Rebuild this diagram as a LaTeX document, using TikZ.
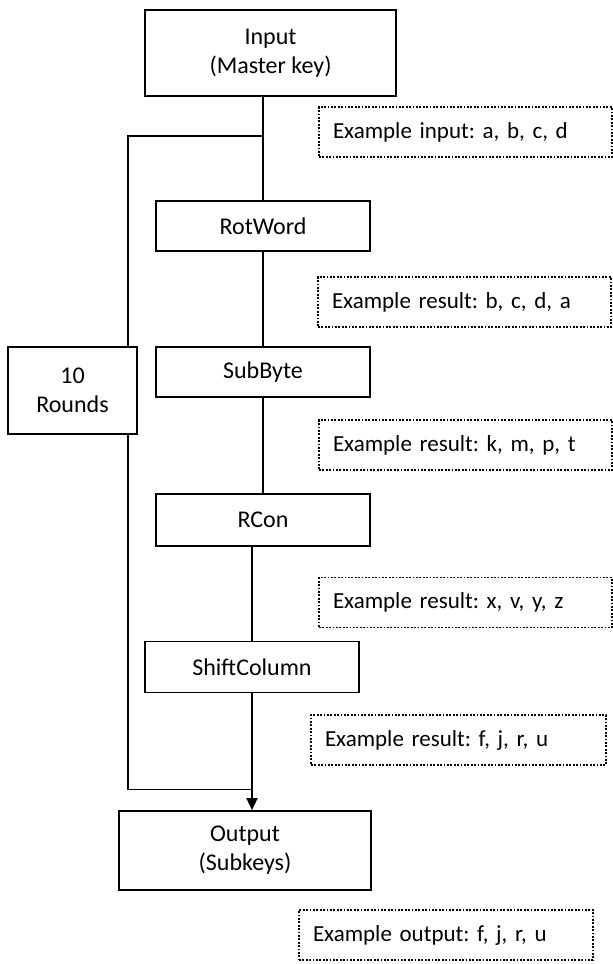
\documentclass[tikz,border=0pt]{standalone}
\usepackage{fontspec}
\setmainfont{Carlito}
\frenchspacing
\usetikzlibrary{positioning,arrows.meta,calc}
\tikzset{x=1pt, y=1pt, >={Triangle[length=12pt,width=11pt]},
  stepbox/.style={draw, line width=1.8pt, minimum width=214pt, minimum height=50pt,
    inner sep=0pt, align=center, font=\fontsize{24}{29}\selectfont},
  note/.style={draw, line width=1.8pt, dash pattern=on 1.8pt off 1.6pt,
    minimum height=50pt, text width=265pt, inner xsep=14pt, inner ysep=0pt,
    align=left, font=\fontsize{23}{28}\selectfont},
  link/.style={line width=1.8pt}}

\begin{document}
\begin{tikzpicture}
  \useasboundingbox (0,0) rectangle (613,-964);

  \node (in) [stepbox, minimum width=251pt, minimum height=86pt] at (270.5,-53) {Input\\(Master key)};
  \node (rot) [stepbox, below of=in, node distance=173pt, xshift=-7.5pt] {RotWord};
  \node (sub) [stepbox, below of=rot, node distance=146pt] {SubByte};
  \node (rcon) [stepbox, below of=sub, node distance=148pt, minimum height=52pt] {RCon};
  \node (shift) [stepbox, below of=rcon, node distance=147pt, xshift=-11pt, minimum height=51pt] {ShiftColumn};
  \node (out) [stepbox, below of=shift, node distance=183.5pt, xshift=-7pt, minimum width=252pt, minimum height=79pt] {Output\\(Subkeys)};
  \node (rounds) [stepbox, left of=sub, node distance=190.5pt, yshift=-18.5pt, minimum width=129pt, minimum height=87pt] {10\\Rounds};

  % example values
  \node (ex1) [note, text width=265pt] at (465.5,-132) {Example input: a, b, c, d};
  \node (ex2) [note, text width=265pt] at (464.5,-302) {Example result: b, c, d, a};
  \node (ex3) [note, text width=265pt] at (465.5,-445) {Example result: k, m, p, t};
  \node (ex4) [note, text width=265pt] at (465.5,-602.5) {Example result: x, v, y, z};
  \node (ex5) [note, text width=267pt] at (458.5,-740) {Example result: f, j, r, u};
  \node (ex6) [note, text width=266pt] at (446,-935) {Example output: f, j, r, u};

  \coordinate (split) at ($(rot.north |- in.south)+(0,-39)$);
  \coordinate (join) at ($(shift.south)+(0,-96)$);

  \draw [link] (rot.north |- in.south) to (rot.north);
  \draw [link] (rot) to (sub);
  \draw [link] (sub) to (rcon);
  \draw [link] (shift.north |- rcon.south) to (shift.north);
  \draw [link, ->] (shift.south) to (out.north -| shift.south);
  \draw [link] (split) -| ([xshift=-10pt]rounds.north east);
  \draw [link] ([xshift=-10pt]rounds.south east) |- (join);
\end{tikzpicture}
\end{document}
